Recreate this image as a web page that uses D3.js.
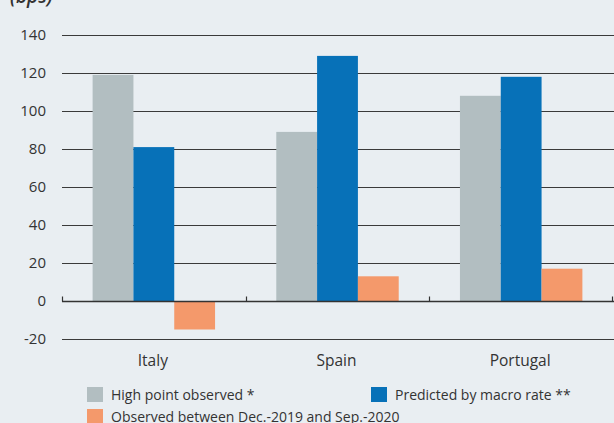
<!DOCTYPE html>
<html>
<head>
<meta charset="utf-8">
<script src="https://cdn.jsdelivr.net/npm/d3@7"></script>
<style>
  html, body { margin: 0; padding: 0; background: #e9eef2; }
  svg { display: block; }
  text { font-family: "Open Sans", "Noto Sans", sans-serif; fill: #333; }
</style>
</head>
<body>
<svg id="chart" width="614" height="423"></svg>
<script>
// Spread widening by country (bps)
const categories = ["Italy", "Spain", "Portugal"];
const seriesNames = ["High point observed *", "Predicted by macro rate **", "Observed between Dec.-2019 and Sep.-2020"];
const highPoint = [119, 89, 108];
const predicted = [81, 129, 118];
const observed = [-15, 13, 17];
const yTicks = [-20, 0, 20, 40, 60, 80, 100, 120, 140];
const unitLabel = "(bps)";

const seriesValues = [highPoint, predicted, observed];
const colors = ["#b2bec1", "#0771b8", "#f4996b"];

const W = 614, H = 423;
const margin = { left: 62, right: 1, top: 35, bottom: 84 };
const svg = d3.select("#chart");

const x0 = d3.scaleBand().domain(categories).range([margin.left, W - margin.right]).padding(0);
const bw = x0.bandwidth();
const x1 = d3.scaleBand().domain(d3.range(seriesNames.length)).range([bw / 6, bw * 5 / 6]).padding(0);
const y = d3.scaleLinear().domain([-20, 140]).range([H - margin.bottom, margin.top]);

// horizontal gridlines
const grid = svg.append("g");
grid.selectAll("line").data(yTicks.filter(d => d !== 0)).join("line")
  .attr("x1", margin.left).attr("x2", W)
  .attr("y1", d => Math.round(y(d)) + 0.5).attr("y2", d => Math.round(y(d)) + 0.5)
  .attr("stroke", "#3a3a3a").attr("stroke-width", 1.1);

// y tick labels
svg.append("g").selectAll("text").data(yTicks).join("text")
  .attr("x", 46).attr("y", d => y(d)).attr("dy", "0.35em")
  .attr("text-anchor", "end").attr("font-size", 15)
  .text(d => d);

// bars
const groups = svg.append("g").selectAll("g").data(categories).join("g")
  .attr("transform", c => `translate(${x0(c)},0)`);
groups.selectAll("rect")
  .data((c, i) => seriesValues.map((vals, s) => ({ s, v: vals[i] })))
  .join("rect")
  .attr("x", d => x1(d.s)).attr("width", x1.bandwidth())
  .attr("y", d => y(Math.max(0, d.v)))
  .attr("height", d => Math.abs(y(d.v) - y(0)))
  .attr("fill", d => colors[d.s]);

// zero axis with category separators
const zeroY = Math.round(y(0)) + 0.5;
svg.append("line").attr("x1", margin.left).attr("x2", W)
  .attr("y1", zeroY).attr("y2", zeroY)
  .attr("stroke", "#333").attr("stroke-width", 1.3);
const seps = categories.map(c => x0(c)).concat([x0(categories[categories.length - 1]) + bw]);
svg.append("g").selectAll("line").data(seps).join("line")
  .attr("x1", d => Math.min(Math.round(d) + 0.5, W - 1.5)).attr("x2", d => Math.min(Math.round(d) + 0.5, W - 1.5))
  .attr("y1", zeroY - 5).attr("y2", zeroY)
  .attr("stroke", "#333").attr("stroke-width", 1.2);

// category labels
svg.append("g").selectAll("text").data(categories).join("text")
  .attr("x", c => x0(c) + bw / 2 - 1).attr("y", 366)
  .attr("text-anchor", "middle").attr("font-size", 15.5)
  .text(c => c);

// unit label
svg.append("text").attr("x", 10).attr("y", 3)
  .attr("font-size", 19).attr("font-style", "italic").attr("font-weight", 600)
  .text(unitLabel);

// legend
const legendPos = [[87, 387], [371, 387], [87, 409]];
const lg = svg.append("g").selectAll("g").data(seriesNames).join("g")
  .attr("transform", (d, i) => `translate(${legendPos[i][0]},${legendPos[i][1]})`);
lg.append("rect").attr("width", 16).attr("height", 15).attr("fill", (d, i) => colors[i]);
lg.append("text").attr("x", 24).attr("y", 12.5).attr("font-size", 14).text(d => d);
</script>
</body>
</html>
